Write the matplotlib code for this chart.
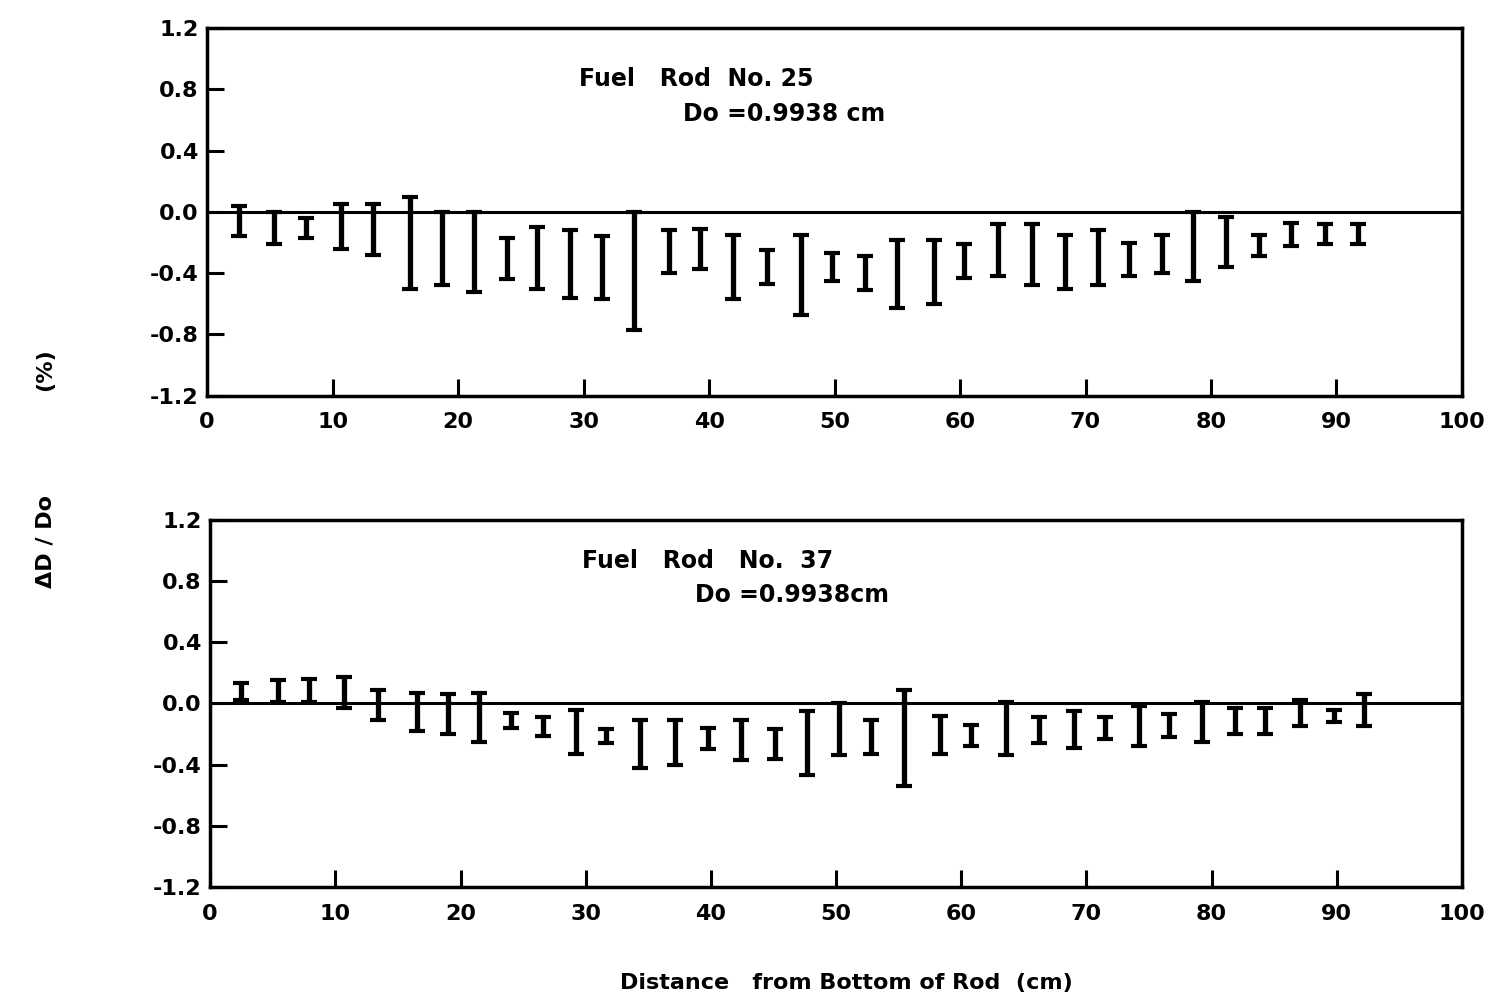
import matplotlib
matplotlib.use("Agg")
import matplotlib.pyplot as plt
import numpy as np

plt.rcParams['font.family'] = ['DejaVu Sans']
plt.rcParams['font.weight'] = 'bold'
plt.rcParams['axes.unicode_minus'] = False

# Fuel rod No. 25: position (cm), upper and lower end of each bar (%)
X25 = [2.5, 5.3, 7.9, 10.65, 13.25, 16.2, 18.75, 21.3, 23.9, 26.3, 28.9, 31.5,
       34.0, 36.8, 39.3, 41.9, 44.6, 47.3, 49.8, 52.4, 55.0, 57.9, 60.3, 63.0,
       65.7, 68.4, 71.0, 73.5, 76.1, 78.6, 81.2, 83.8, 86.4, 89.1, 91.7]
HI25 = [0.04, 0.0, -0.04, 0.05, 0.05, 0.10, 0.0, 0.0, -0.17, -0.10, -0.12, -0.16,
        0.0, -0.12, -0.11, -0.15, -0.25, -0.15, -0.27, -0.29, -0.18, -0.18, -0.21, -0.08,
        -0.08, -0.15, -0.12, -0.20, -0.15, 0.0, -0.03, -0.15, -0.07, -0.08, -0.08]
LO25 = [-0.16, -0.21, -0.17, -0.24, -0.28, -0.50, -0.48, -0.52, -0.44, -0.50, -0.56, -0.57,
        -0.77, -0.40, -0.37, -0.57, -0.47, -0.67, -0.45, -0.51, -0.63, -0.60, -0.43, -0.42,
        -0.48, -0.50, -0.48, -0.42, -0.40, -0.45, -0.36, -0.29, -0.22, -0.21, -0.21]

# Fuel rod No. 37
X37 = [2.5, 5.4, 7.9, 10.7, 13.4, 16.5, 19.0, 21.5, 24.0, 26.6, 29.2, 31.6,
       34.3, 37.1, 39.8, 42.4, 45.1, 47.7, 50.2, 52.8, 55.4, 58.3, 60.8, 63.6,
       66.2, 69.0, 71.5, 74.2, 76.6, 79.2, 81.9, 84.3, 87.1, 89.8, 92.2]
HI37 = [0.13, 0.15, 0.16, 0.17, 0.09, 0.07, 0.06, 0.07, -0.06, -0.09, -0.04, -0.17,
        -0.11, -0.11, -0.16, -0.11, -0.17, -0.05, 0.0, -0.11, 0.09, -0.08, -0.14, 0.01,
        -0.09, -0.05, -0.09, -0.02, -0.07, 0.01, -0.03, -0.03, 0.02, -0.04, 0.06]
LO37 = [0.02, 0.01, 0.01, -0.03, -0.11, -0.18, -0.20, -0.25, -0.16, -0.21, -0.33, -0.26,
        -0.42, -0.40, -0.30, -0.37, -0.36, -0.47, -0.34, -0.33, -0.54, -0.33, -0.28, -0.34,
        -0.26, -0.29, -0.23, -0.28, -0.22, -0.25, -0.20, -0.20, -0.15, -0.12, -0.15]

X_TICKS = [0, 10, 20, 30, 40, 50, 60, 70, 80, 90, 100]
Y_TICKS = [1.2, 0.8, 0.4, 0.0, -0.4, -0.8, -1.2]

fig = plt.figure(figsize=(15.01, 10.07), dpi=100)
ax1 = fig.add_axes([0.138, 0.607, 0.836, 0.365])
ax2 = fig.add_axes([0.140, 0.119, 0.834, 0.365])

panels = [
    (ax1, X25, HI25, LO25, "Fuel   Rod  No. 25", "Do =0.9938 cm", (29.6, 0.87), (37.9, 0.64)),
    (ax2, X37, HI37, LO37, "Fuel   Rod   No.  37", "Do =0.9938cm", (29.7, 0.93), (38.7, 0.71)),
]

for ax, xs, hi, lo, t1, t2, p1, p2 in panels:
    hi = np.array(hi)
    lo = np.array(lo)
    mid = (hi + lo) / 2
    err = (hi - lo) / 2
    ax.errorbar(xs, mid, yerr=err, fmt='none', ecolor='black',
                elinewidth=3.8, capsize=5.5, capthick=3)
    ax.axhline(0, color='black', lw=2.2)
    ax.set_xlim(0, 100)
    ax.set_ylim(-1.2, 1.2)
    ax.set_xticks(X_TICKS)
    ax.set_yticks(Y_TICKS)
    ax.set_yticklabels(['%.1f' % v for v in Y_TICKS])
    ax.tick_params(direction='in', length=12, width=2.2, labelsize=16, pad=12)
    ax.tick_params(axis='y', pad=6)
    for s in ax.spines.values():
        s.set_linewidth(2.5)
    ax.text(p1[0], p1[1], t1, fontsize=17, fontweight='bold', va='center')
    ax.text(p2[0], p2[1], t2, fontsize=17, fontweight='bold', va='center')

fig.text(0.030, 0.633, "(%)", rotation=90, fontsize=16, fontweight='bold',
         ha='center', va='center')
fig.text(0.030, 0.462, "\u0394D / Do", rotation=90, fontsize=16, fontweight='bold',
         ha='center', va='center')
fig.text(0.564, 0.024, "Distance   from Bottom of Rod  (cm)", fontsize=16,
         fontweight='bold', ha='center', va='center')

plt.savefig("out.png", dpi=100)
